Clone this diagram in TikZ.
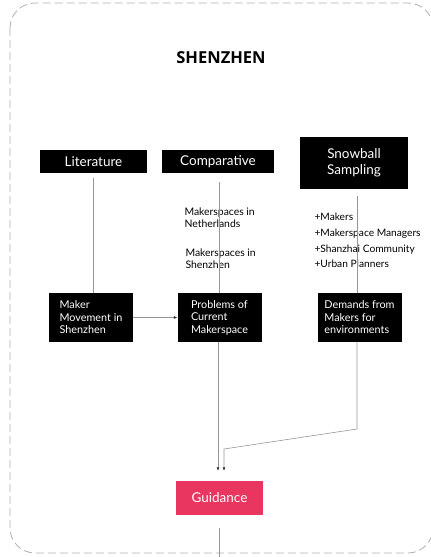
\documentclass[tikz,border=0pt]{standalone}
\usepackage{fontspec}
\setmainfont{Lato}
\newfontfamily\titlefont{Open Sans}
\usetikzlibrary{arrows.meta}

\definecolor{guidered}{RGB}{233,54,96}
\definecolor{linegray}{RGB}{150,150,150}
\definecolor{framegray}{RGB}{175,175,175}

\begin{document}
\begin{tikzpicture}[
    x=1pt, y=-1pt,
    >={Latex[length=3.5pt,width=3pt,color=black!80]},
    font=\fontsize{10.4}{12}\selectfont,
    topbox/.style={fill=black, text=white, inner sep=0pt, align=center,
        font=\fontsize{13.5}{16}\selectfont},
    lowbox/.style={fill=black, text=white, minimum width=84pt, minimum height=49pt,
        inner sep=0pt, align=left, font=\fontsize{10.8}{12.5}\selectfont},
    line/.style={draw=linegray, line width=0.6pt},
    note/.style={anchor=west, align=left}
    ]

\useasboundingbox (0,0) rectangle (431,557);

% frame
\draw[framegray, line width=0.8pt, dash pattern=on 8pt off 4pt, rounded corners=25pt]
    (10,3) rectangle (433,553);

\node[font=\titlefont\bfseries\fontsize{16.5}{18}\selectfont] (title) at (221,57.5) {SHENZHEN};

% top row
\node[topbox, minimum width=107pt, minimum height=23pt] (lit)  at (93.5,161.5)  {Literature};
\node[topbox, minimum width=112pt, minimum height=23pt] (comp) at (218,161.5)   {Comparative};
\node[topbox, minimum width=108pt, minimum height=52pt] (snow) at (354,163)     {Snowball\\Sampling};

% notes
\node[note] (nl) at (181,217.5) {Makerspaces in\\Netherlands};
\node[note] (sz) at (182,259)   {Makerspaces in\\Shenzhen};
\node[note, font=\fontsize{10.2}{15.6}\selectfont] (group) at (311,240.5)
    {+Makers\\+Makerspace Managers\\+Shanzhai Community\\+Urban Planners};

% second row
\node[lowbox] (maker)   at (91,317.5)  {Maker\\Movement in\\Shenzhen};
\node[lowbox] (problem) at (219.5,317.5) {Problems of\\Current\\Makerspace};
\node[lowbox] (demand)  at (359.5,317.5) {Demands from\\Makers for\\environments};

\node[fill=guidered, text=white, minimum width=87pt, minimum height=34pt,
      font=\fontsize{13.5}{15}\selectfont] (guide) at (219.5,498) {Guidance};

\coordinate (bend1) at (357,429);
\coordinate (bend2) at (224,449);
\coordinate (exit)  at (219,560);

% connectors
\draw[line, shorten <=5pt] (lit.south) -- (lit.south |- maker.north);
\draw[line, shorten <=9pt] (comp.south -| problem) -- (problem.north);
\draw[line, shorten <=7pt] (snow.south -| bend1) -- (bend1 |- demand.north);
\draw[line, ->] (maker.east) -- (problem.west);
\draw[line, ->, shorten >=10pt] ([xshift=-1.5pt]problem.south) -- ([xshift=-1.5pt]guide.north);
\draw[line, ->, shorten >=10pt] (bend1 |- demand.south) -- (bend1) -- (bend2) -- (bend2 |- guide.north);
\draw[line, shorten <=13pt] (guide.south -| exit) -- (exit);

\end{tikzpicture}
\end{document}
